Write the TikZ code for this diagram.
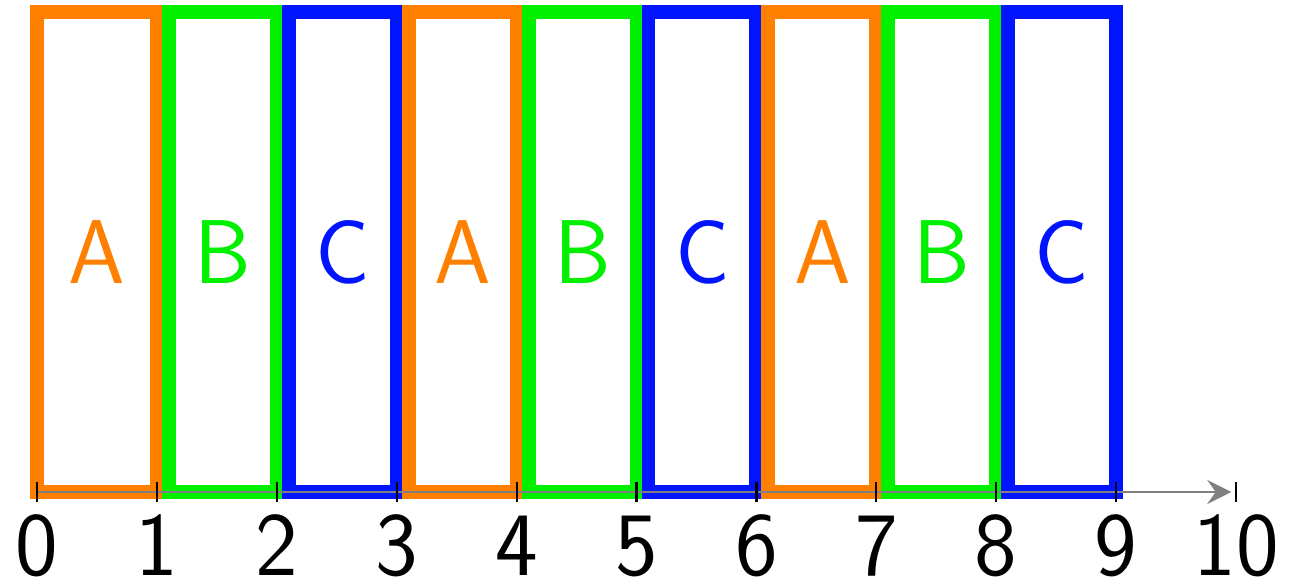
\documentclass[tikz,border=0pt]{standalone}
\usetikzlibrary{arrows.meta}
\definecolor{cA}{RGB}{255,128,0}
\definecolor{cB}{RGB}{0,240,0}
\definecolor{cC}{RGB}{0,20,255}
\begin{document}
\begin{tikzpicture}[
  slot/.style={line width=3.3pt},
  lbl/.style={font=\sffamily\fontsize{21.5}{26}\selectfont, anchor=base, inner sep=0pt},
  axisline/.style={gray, line width=0.6pt},
  tickline/.style={black, line width=0.5pt}
]
\useasboundingbox (-0.3086,-0.742) rectangle (10.525,4.103);
% rectangles
\foreach \k/\c/\t in {0/cA/A,1/cB/B,2/cC/C,3/cA/A,4/cB/B,5/cC/C,6/cA/A,7/cB/B,8/cC/C}{
  \pgfmathsetmacro{\l}{ifthenelse(\k==0,0,\k+0.1)}
  \pgfmathsetmacro{\m}{(\l+\k+1)/2}
  \draw[slot, draw=\c] (\l,0) rectangle (\k+1,4);
  \node[lbl, text=\c] (L\k) at (\m,1.74) {\t};
}
% axis
\coordinate (O) at (0,0);
\coordinate (E) at (10,0);
\draw[axisline, -{Stealth[length=0.2cm, width=0.2cm, inset=0.07cm]}, shorten >=0.04cm] (O) -- (E);
\foreach \i in {0,...,10}{
  \draw[tickline] (\i,-0.08) -- (\i,0.08);
  \node[lbl] (N\i) at (\i,-0.70) {\i};
}
\end{tikzpicture}
\end{document}
